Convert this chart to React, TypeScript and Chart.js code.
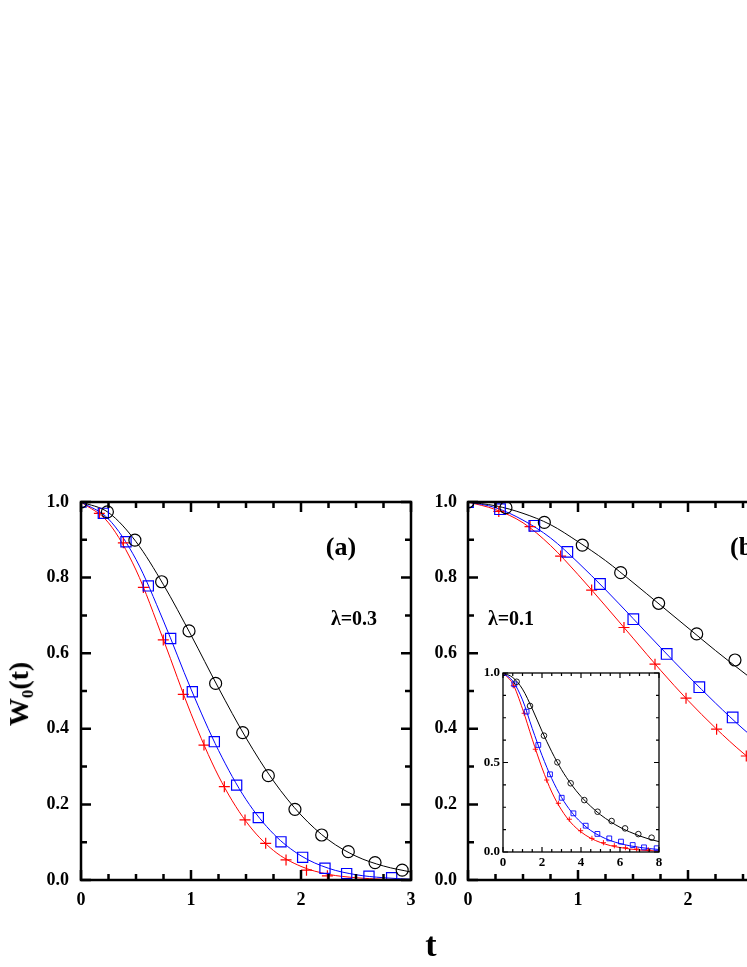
import React, { useEffect, useRef } from 'react';
import { Chart, registerables } from 'chart.js';
Chart.register(...registerables);

// ---------- Panel (a): lambda = 0.3 ----------
const A_LINE_T = [0, 0.25, 0.5, 0.75, 1.0, 1.25, 1.5, 1.75, 2.0, 2.25, 2.5, 2.75, 3.0];
const A_BLACK_LINE = [1.0, 0.972, 0.895, 0.781, 0.648, 0.508, 0.376, 0.262, 0.172, 0.106, 0.063, 0.037, 0.021];
const A_BLUE_LINE = [1.0, 0.955, 0.848, 0.685, 0.505, 0.343, 0.213, 0.122, 0.064, 0.031, 0.014, 0.006, 0.002];
const A_RED_LINE = [1.0, 0.945, 0.82, 0.635, 0.44, 0.275, 0.155, 0.078, 0.036, 0.015, 0.006, 0.002, 0.001];

const A_CIRCLE_T = [0, 0.24, 0.49, 0.733, 0.982, 1.224, 1.47, 1.703, 1.945, 2.188, 2.43, 2.673, 2.92];
const A_CIRCLE_W = [1.0, 0.974, 0.899, 0.789, 0.659, 0.52, 0.39, 0.276, 0.187, 0.119, 0.075, 0.046, 0.026];
const A_SQUARE_T = [0, 0.203, 0.409, 0.612, 0.815, 1.012, 1.212, 1.415, 1.612, 1.818, 2.015, 2.218, 2.415, 2.618, 2.824];
const A_SQUARE_W = [1.0, 0.97, 0.895, 0.778, 0.639, 0.498, 0.366, 0.251, 0.165, 0.101, 0.06, 0.031, 0.017, 0.01, 0.006];
const A_PLUS_T = [0, 0.167, 0.385, 0.567, 0.748, 0.93, 1.118, 1.303, 1.491, 1.679, 1.864, 2.05, 2.24];
const A_PLUS_W = [1.0, 0.97, 0.892, 0.774, 0.635, 0.491, 0.357, 0.247, 0.159, 0.097, 0.053, 0.026, 0.011];

// ---------- Panel (b): lambda = 0.1 ----------
const B_LINE_T = [0, 0.25, 0.5, 0.75, 1.0, 1.25, 1.5, 1.75, 2.0, 2.25, 2.5, 2.75, 3.0];
const B_BLACK_LINE = [1.0, 0.99, 0.97, 0.94, 0.895, 0.845, 0.787, 0.727, 0.667, 0.607, 0.55, 0.495, 0.445];
const B_BLUE_LINE = [1.0, 0.985, 0.952, 0.905, 0.84, 0.768, 0.692, 0.615, 0.54, 0.468, 0.4, 0.34, 0.288];
const B_RED_LINE = [1.0, 0.98, 0.945, 0.885, 0.808, 0.725, 0.64, 0.555, 0.475, 0.402, 0.336, 0.28, 0.23];

const B_CIRCLE_T = [0, 0.345, 0.694, 1.039, 1.388, 1.733, 2.079, 2.427, 2.77];
const B_CIRCLE_W = [1.0, 0.985, 0.946, 0.886, 0.813, 0.732, 0.651, 0.582, 0.515];
const B_SQUARE_T = [0, 0.291, 0.603, 0.903, 1.2, 1.503, 1.806, 2.103, 2.406, 2.71];
const B_SQUARE_W = [1.0, 0.981, 0.937, 0.868, 0.783, 0.69, 0.598, 0.51, 0.43, 0.355];
const B_PLUS_T = [0, 0.28, 0.564, 0.842, 1.124, 1.418, 1.7, 1.982, 2.26, 2.53, 2.81];
const B_PLUS_W = [1.0, 0.975, 0.935, 0.857, 0.767, 0.668, 0.571, 0.481, 0.399, 0.328, 0.27];

// ---------- Inset of panel (b) ----------
const I_LINE_T = [0, 0.5, 1, 1.5, 2, 2.5, 3, 3.5, 4, 4.5, 5, 5.5, 6, 6.5, 7, 7.5, 8];
const I_BLACK_LINE = [1.0, 0.975, 0.91, 0.8, 0.675, 0.56, 0.46, 0.378, 0.31, 0.255, 0.208, 0.17, 0.138, 0.112, 0.09, 0.072, 0.058];
const I_BLUE_LINE = [1.0, 0.955, 0.85, 0.69, 0.54, 0.41, 0.305, 0.225, 0.165, 0.12, 0.088, 0.064, 0.047, 0.035, 0.026, 0.019, 0.014];
const I_RED_LINE = [1.0, 0.94, 0.8, 0.63, 0.47, 0.335, 0.235, 0.162, 0.112, 0.077, 0.053, 0.036, 0.025, 0.017, 0.011, 0.008, 0.005];

const I_CIRCLE_T = [0, 0.7, 1.385, 2.1, 2.79, 3.47, 4.17, 4.85, 5.57, 6.26, 6.94, 7.62];
const I_CIRCLE_W = [1.0, 0.951, 0.816, 0.65, 0.501, 0.384, 0.29, 0.225, 0.173, 0.132, 0.1, 0.08];
const I_SQUARE_T = [0, 0.58, 1.21, 1.81, 2.41, 3.01, 3.61, 4.24, 4.84, 5.45, 6.05, 6.65, 7.23, 7.88];
const I_SQUARE_W = [1.0, 0.937, 0.784, 0.598, 0.434, 0.303, 0.216, 0.147, 0.101, 0.076, 0.058, 0.039, 0.026, 0.021];
const I_PLUS_T = [0, 0.53, 1.09, 1.66, 2.24, 2.84, 3.4, 3.98, 4.56, 5.15, 5.71, 6.28, 6.85, 7.45];
const I_PLUS_W = [1.0, 0.929, 0.775, 0.574, 0.402, 0.272, 0.183, 0.119, 0.076, 0.052, 0.035, 0.024, 0.017, 0.012];

// ---------- Axes ----------
const MAIN_X_MAX = 3;
const MAIN_X_LABEL_STEP = 1;
const MAIN_X_MINOR_STEP = 0.25;
const MAIN_Y_LABEL_STEP = 0.2;
const MAIN_Y_MINOR_STEP = 0.1;
const INSET_X_MAX = 8;
const INSET_X_LABEL_STEP = 2;
const INSET_X_MINOR_STEP = 0.5;
const INSET_Y_LABEL_STEP = 0.5;
const INSET_Y_MINOR_STEP = 0.125;

const BLACK = '#000000';
const BLUE = '#0000ff';
const RED = '#ff0000';
const FONT = "'Liberation Serif', 'Times New Roman', serif";

const pts = (xs: number[], ys: number[]) => xs.map((x, i) => ({ x, y: ys[i] }));

const framePlugin = {
  id: 'frame',
  afterDatasetsDraw(chart: any, _args: any, o: any) {
    const { ctx, chartArea: a } = chart;
    const xs = chart.scales.x;
    const ys = chart.scales.y;
    ctx.save();
    ctx.strokeStyle = '#000';
    ctx.lineCap = 'butt';
    ctx.lineWidth = o.tickWidth;
    const nx = Math.round((xs.max - xs.min) / o.xMinor);
    const perX = Math.round(o.xMajor / o.xMinor);
    for (let i = 0; i <= nx; i++) {
      const v = xs.min + i * o.xMinor;
      const px = xs.getPixelForValue(v);
      const len = i % perX === 0 ? o.majorLen : o.minorLen;
      ctx.beginPath();
      ctx.moveTo(px, a.bottom);
      ctx.lineTo(px, a.bottom - len);
      ctx.moveTo(px, a.top);
      ctx.lineTo(px, a.top + len);
      ctx.stroke();
    }
    const ny = Math.round((ys.max - ys.min) / o.yMinor);
    const perY = Math.round(o.yMajor / o.yMinor);
    for (let i = 0; i <= ny; i++) {
      const v = ys.min + i * o.yMinor;
      const py = ys.getPixelForValue(v);
      const len = i % perY === 0 ? o.majorLen : o.minorLen;
      ctx.beginPath();
      ctx.moveTo(a.left, py);
      ctx.lineTo(a.left + len, py);
      ctx.moveTo(a.right, py);
      ctx.lineTo(a.right - len, py);
      ctx.stroke();
    }
    ctx.lineWidth = o.frameWidth;
    ctx.strokeRect(a.left, a.top, a.right - a.left, a.bottom - a.top);
    ctx.restore();
  },
};

type Spec = {
  width: number;
  height: number;
  yWidth: number;
  xHeight: number;
  padTop: number;
  padRight: number;
  xMax: number;
  xLabelStep: number;
  xMinor: number;
  yLabelStep: number;
  yMinor: number;
  fontSize: number;
  yPad: number;
  xPad: number;
  xDecimals: number;
  lines: { t: number[]; w: number[]; color: string }[];
  markers: { t: number[]; w: number[]; color: string; style: string; r: number }[];
  markerWidth: number;
  lineWidth: number;
  frameWidth: number;
  tickWidth: number;
  majorLen: number;
  minorLen: number;
};

function buildConfig(s: Spec): any {
  const datasets: any[] = [];
  s.markers.forEach((m) =>
    datasets.push({
      data: pts(m.t, m.w),
      showLine: false,
      pointStyle: m.style,
      pointRadius: m.r,
      pointBorderColor: m.color,
      pointBackgroundColor: 'rgba(0,0,0,0)',
      pointBorderWidth: s.markerWidth,
      borderColor: m.color,
    })
  );
  s.lines.forEach((l) =>
    datasets.push({
      data: pts(l.t, l.w),
      borderColor: l.color,
      borderWidth: s.lineWidth,
      pointRadius: 0,
      fill: false,
      cubicInterpolationMode: 'monotone',
    })
  );
  return {
    type: 'line',
    data: { datasets },
    options: {
      animation: false,
      responsive: false,
      devicePixelRatio: 1,
      events: [],
      layout: { padding: { top: s.padTop, right: s.padRight, left: 0, bottom: 0 } },
      plugins: {
        legend: { display: false },
        tooltip: { enabled: false },
        frame: {
          xMinor: s.xMinor,
          xMajor: s.xLabelStep,
          yMinor: s.yMinor,
          yMajor: s.yLabelStep,
          frameWidth: s.frameWidth,
          tickWidth: s.tickWidth,
          majorLen: s.majorLen,
          minorLen: s.minorLen,
        },
      },
      scales: {
        x: {
          type: 'linear',
          min: 0,
          max: s.xMax,
          grid: { display: false, drawTicks: false },
          border: { display: false },
          ticks: {
            stepSize: s.xLabelStep,
            padding: s.xPad,
            color: '#000',
            font: { family: FONT, size: s.fontSize, weight: 'bold' },
            maxRotation: 0,
            autoSkip: false,
            callback: (v: number) => Number(v).toFixed(s.xDecimals),
          },
          afterFit: (sc: any) => {
            sc.height = s.xHeight;
          },
        },
        y: {
          type: 'linear',
          min: 0,
          max: 1,
          grid: { display: false, drawTicks: false },
          border: { display: false },
          ticks: {
            stepSize: s.yLabelStep,
            padding: s.yPad,
            color: '#000',
            font: { family: FONT, size: s.fontSize, weight: 'bold' },
            autoSkip: false,
            callback: (v: number) => Number(v).toFixed(1),
          },
          afterFit: (sc: any) => {
            sc.width = s.yWidth;
          },
        },
      },
    },
    plugins: [framePlugin],
  };
}

function Panel({ spec, style }: { spec: Spec; style: React.CSSProperties }) {
  const ref = useRef<HTMLCanvasElement | null>(null);
  useEffect(() => {
    if (!ref.current) return;
    const chart = new Chart(ref.current, buildConfig(spec));
    return () => chart.destroy();
  }, [spec]);
  return (
    <canvas
      ref={ref}
      width={spec.width}
      height={spec.height}
      style={{ position: 'absolute', display: 'block', width: spec.width, height: spec.height, ...style }}
    />
  );
}

const mainCommon = {
  height: 460,
  xHeight: 50,
  padTop: 32,
  xMax: MAIN_X_MAX,
  xLabelStep: MAIN_X_LABEL_STEP,
  xMinor: MAIN_X_MINOR_STEP,
  yLabelStep: MAIN_Y_LABEL_STEP,
  yMinor: MAIN_Y_MINOR_STEP,
  fontSize: 18,
  xPad: 10,
  xDecimals: 0,
  markerWidth: 1.2,
  lineWidth: 1,
  frameWidth: 2.5,
  tickWidth: 2.5,
  majorLen: 10,
  minorLen: 6,
};

const SPEC_A: Spec = {
  ...mainCommon,
  width: 420,
  yWidth: 73,
  padRight: 17,
  yPad: 12,
  lines: [
    { t: A_LINE_T, w: A_BLACK_LINE, color: BLACK },
    { t: A_LINE_T, w: A_BLUE_LINE, color: BLUE },
    { t: A_LINE_T, w: A_RED_LINE, color: RED },
  ],
  markers: [
    { t: A_CIRCLE_T, w: A_CIRCLE_W, color: BLACK, style: 'circle', r: 6 },
    { t: A_SQUARE_T, w: A_SQUARE_W, color: BLUE, style: 'rect', r: 7.2 },
    { t: A_PLUS_T, w: A_PLUS_W, color: RED, style: 'cross', r: 5.5 },
  ],
};

const SPEC_B: Spec = {
  ...mainCommon,
  width: 440,
  yWidth: 40,
  padRight: 70,
  yPad: 11,
  lines: [
    { t: B_LINE_T, w: B_BLACK_LINE, color: BLACK },
    { t: B_LINE_T, w: B_BLUE_LINE, color: BLUE },
    { t: B_LINE_T, w: B_RED_LINE, color: RED },
  ],
  markers: [
    { t: B_CIRCLE_T, w: B_CIRCLE_W, color: BLACK, style: 'circle', r: 6 },
    { t: B_SQUARE_T, w: B_SQUARE_W, color: BLUE, style: 'rect', r: 7.5 },
    { t: B_PLUS_T, w: B_PLUS_W, color: RED, style: 'cross', r: 5.5 },
  ],
};

const SPEC_INSET: Spec = {
  width: 210,
  height: 220,
  yWidth: 40,
  xHeight: 28,
  padTop: 13,
  padRight: 14,
  xMax: INSET_X_MAX,
  xLabelStep: INSET_X_LABEL_STEP,
  xMinor: INSET_X_MINOR_STEP,
  yLabelStep: INSET_Y_LABEL_STEP,
  yMinor: INSET_Y_MINOR_STEP,
  fontSize: 13,
  yPad: 3,
  xPad: 3,
  xDecimals: 0,
  markerWidth: 0.9,
  lineWidth: 1,
  frameWidth: 1.3,
  tickWidth: 1.2,
  majorLen: 5,
  minorLen: 3,
  lines: [
    { t: I_LINE_T, w: I_BLACK_LINE, color: BLACK },
    { t: I_LINE_T, w: I_BLUE_LINE, color: BLUE },
    { t: I_LINE_T, w: I_RED_LINE, color: RED },
  ],
  markers: [
    { t: I_CIRCLE_T, w: I_CIRCLE_W, color: BLACK, style: 'circle', r: 2.8 },
    { t: I_SQUARE_T, w: I_SQUARE_W, color: BLUE, style: 'rect', r: 3.4 },
    { t: I_PLUS_T, w: I_PLUS_W, color: RED, style: 'cross', r: 2.6 },
  ],
};

const textBase: React.CSSProperties = {
  position: 'absolute',
  fontFamily: FONT,
  fontWeight: 'bold',
  lineHeight: 1,
  whiteSpace: 'nowrap',
  color: '#000',
  transform: 'translate(-50%, -50%)',
};

export default function App() {
  return (
    <div
      style={{
        position: 'fixed',
        left: 8,
        top: 8,
        width: 739,
        height: 951,
        overflow: 'hidden',
        background: '#fff',
      }}
    >
      <Panel spec={SPEC_A} style={{ left: 0, top: 462 }} />
      <Panel spec={SPEC_B} style={{ left: 420, top: 462 }} />
      <Panel spec={SPEC_INSET} style={{ left: 455, top: 652 }} />
      <div style={{ ...textBase, left: 333, top: 539, fontSize: 26 }}>(a)</div>
      <div style={{ ...textBase, left: 346, top: 610, fontSize: 20 }}>λ=0.3</div>
      <div style={{ ...textBase, left: 722, top: 539, fontSize: 26, width: 40, transform: 'translate(0, -50%)' }}>(b)</div>
      <div style={{ ...textBase, left: 503, top: 610, fontSize: 20 }}>λ=0.1</div>
      <div style={{ ...textBase, left: 423, top: 937, fontSize: 34 }}>t</div>
      <div style={{ ...textBase, left: 13, top: 686, fontSize: 28, transform: 'translate(-50%, -50%) rotate(-90deg)' }}>
        W<sub style={{ fontSize: '0.6em', verticalAlign: '-0.3em' }}>0</sub>(t)
      </div>
    </div>
  );
}
